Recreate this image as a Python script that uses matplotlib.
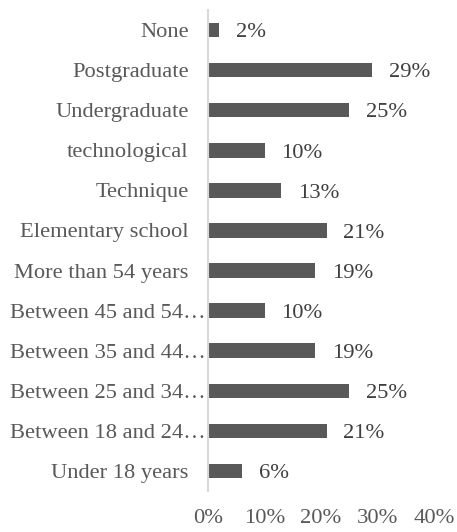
import matplotlib

matplotlib.use("Agg")
import matplotlib.pyplot as plt
from matplotlib.ticker import PercentFormatter

# rows listed top to bottom as in the chart
categories = [
    "None", "Postgraduate", "Undergraduate", "technological", "Technique",
    "Elementary school", "More than 54 years", "Between 45 and 54\u2026",
    "Between 35 and 44\u2026", "Between 25 and 34\u2026", "Between 18 and 24\u2026",
    "Under 18 years",
]
values = [0.02, 0.29, 0.25, 0.10, 0.13, 0.21, 0.19, 0.10, 0.19, 0.25, 0.21, 0.06]
x_ticks = [0.0, 0.1, 0.2, 0.3, 0.4]

plt.rcParams["font.family"] = ["Liberation Serif", "DejaVu Serif"]

W, H = 457, 532
fig = plt.figure(figsize=(W / 100, H / 100), dpi=100)
ax = fig.add_axes([208 / W, 1 - 491 / H, (434 - 208) / W, (491 - 10) / H])

pos = list(range(len(categories)))
ax.barh(pos, values, height=0.36, color="#595959")
for p, v in zip(pos, values):
    ax.annotate(f"{v:.0%}", (v, p), xytext=(12, -2), textcoords="offset points",
                va="center", ha="left", fontsize=16.2, color="#404040")

ax.set_ylim(len(categories) - 0.5, -0.5)
ax.set_xlim(0, 0.4)
ax.set_yticks(pos)
ax.set_yticklabels(categories)
ax.set_xticks(x_ticks)
ax.xaxis.set_major_formatter(PercentFormatter(1.0, decimals=0))
ax.tick_params(axis="both", length=0, labelsize=16.2, colors="#595959")
ax.tick_params(axis="x", pad=13)
# truncated labels sit right against the axis, like Excel does
for tick, lab in zip(ax.yaxis.get_major_ticks(), categories):
    tick.set_pad(1.5 if lab.endswith("\u2026") else 14)

for s in ["top", "right", "bottom"]:
    ax.spines[s].set_visible(False)
ax.spines["left"].set_color("#d9d9d9")
ax.spines["left"].set_linewidth(1.5)

fig.savefig("out.png", dpi=100)
